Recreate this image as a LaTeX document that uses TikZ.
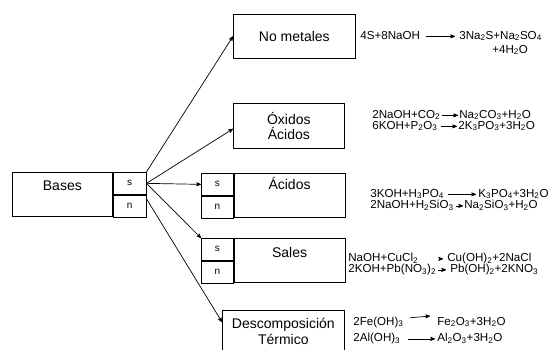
\documentclass[tikz,border=0pt]{standalone}
\usepackage{fontspec}
\setmainfont{Liberation Sans}
\usepackage{tikz}
\usetikzlibrary{arrows}
\newcommand{\sbs}[1]{\textsubscript{#1}}
\tikzset{
	main box/.style={draw,inner sep=0pt,font=\fontsize{14}{15}\selectfont,align=center},
	cell/.style={draw,inner sep=0pt,minimum width=32pt,minimum height=22pt,font=\fontsize{10}{11}\selectfont},
	eq/.style={inner sep=0pt,anchor=base west,font=\fontsize{11.6}{12}\selectfont}
}

\begin{document}
\begin{tikzpicture}[x=1pt,y=-1pt,->,>=stealth',line width=0.7pt]
            \useasboundingbox (0,0) rectangle (551,349);
            % bases
            \node [main box,anchor=north west,minimum width=100pt,minimum height=44pt,text height=10pt,text depth=18pt] (bases) at (12,172) {Bases};
            \node [cell,anchor=north west,minimum width=33pt] (bs) at (bases.north east) {s};
            \node [cell,anchor=north west,minimum width=33pt] (bn) at (bs.south west) {n};
            % right side boxes
            \node [main box,anchor=north west,minimum width=122pt,minimum height=44pt] (nomet) at (233,14) {No metales};
            \node [main box,anchor=north west,minimum width=111pt,minimum height=45pt] (oxac) at (233,103) {Óxidos\\Ácidos};
            \node [cell,anchor=north west] (acs) at (201,173) {s};
            \node [cell,anchor=north west] (acn) at (acs.south west) {n};
            \node [main box,anchor=north west,minimum width=111pt,minimum height=44pt,text height=10pt,text depth=22pt] (acid) at (acs.north east) {Ácidos};
            \node [cell,anchor=north west] (sas) at (201,238) {s};
            \node [cell,anchor=north west] (san) at (sas.south west) {n};
            \node [main box,anchor=north west,minimum width=111pt,minimum height=44pt,text height=10pt,text depth=16pt] (sales) at (sas.north east) {Sales};
            \node [main box,anchor=north west,minimum width=122pt,minimum height=42pt,font=\fontsize{14}{16}\selectfont] (desc) at (222,310) {Descomposición\\Térmico};
            % arrows from bases
            \draw (bs.north east) -- (nomet.west);
            \draw (bs.east) -- ([yshift=-3pt]oxac.west);
            \draw (bs.east) -- (acs.west);
            \draw (bs.east) -- (sas.north west);
            \draw ([yshift=-4pt]bn.north east) -- ([yshift=-12pt]desc.north west);
            % reactions
            \node [eq] (r1) at (360,39) {4S+8NaOH};
            \node [eq] (p1) at (459,39) {3Na\sbs{2}S+Na\sbs{2}SO\sbs{4}};
            \node [eq] (p1b) at (492,53) {+4H\sbs{2}O};
            \draw [shorten <=6pt,shorten >=4pt] (r1.mid east) -- (p1.mid west);
            \node [eq] (r2) at (372,118) {2NaOH+CO\sbs{2}};
            \node [eq] (p2) at (459,118) {Na\sbs{2}CO\sbs{3}+H\sbs{2}O};
            \draw [shorten <=1pt,shorten >=1pt] (r2.mid east) -- (p2.mid west);
            \node [eq] (r3) at (372,129) {6KOH+P\sbs{2}O\sbs{3}};
            \node [eq] (p3) at (458,129) {2K\sbs{3}PO\sbs{3}+3H\sbs{2}O};
            \draw [shorten <=3pt,shorten >=1pt] (r3.mid east) -- (p3.mid west);
            \node [eq] (r4) at (370,197) {3KOH+H\sbs{3}PO\sbs{4}};
            \node [eq] (p4) at (478,197) {K\sbs{3}PO\sbs{4}+3H\sbs{2}O};
            \draw [shorten <=4pt,shorten >=2pt] (r4.mid east) -- (p4.mid west);
            \node [eq] (r5) at (370,208.5) {2NaOH+H\sbs{2}SiO\sbs{3}};
            \node [eq] (p5) at (464,208.5) {Na\sbs{2}SiO\sbs{3}+H\sbs{2}O};
            \draw [shorten <=2pt,shorten >=1pt] (r5.mid east) -- (p5.mid west);
            \node [eq] (r6) at (348,261.5) {NaOH+CuCl\sbs{2}};
            \node [eq] (p6) at (447,261.5) {Cu(OH)\sbs{2}+2NaCl};
            \draw [shorten <=21pt,shorten >=4pt] (r6.mid east) -- (p6.mid west);
            \node [eq] (r7) at (348,272.5) {2KOH+Pb(NO\sbs{3})\sbs{2}};
            \node [eq] (p7) at (450,272.5) {Pb(OH)\sbs{2}+2KNO\sbs{3}};
            \draw [shorten <=2pt,shorten >=4pt] (r7.mid east) -- (p7.mid west);
            \node [eq] (r8) at (353,325) {2Fe(OH)\sbs{3}};
            \node [eq] (p8) at (437,325) {Fe\sbs{2}O\sbs{3}+3H\sbs{2}O};
            \draw [shorten <=6pt,shorten >=7pt] ([yshift=4pt]r8.mid east) -- ([yshift=7pt]p8.mid west);
            \node [eq] (r9) at (353,341.5) {2Al(OH)\sbs{3}};
            \node [eq] (p9) at (437,341.5) {Al\sbs{2}O\sbs{3}+3H\sbs{2}O};
            \draw [shorten <=7pt,shorten >=2pt] (r9.mid east) -- (p9.mid west);
\end{tikzpicture}
\end{document}
